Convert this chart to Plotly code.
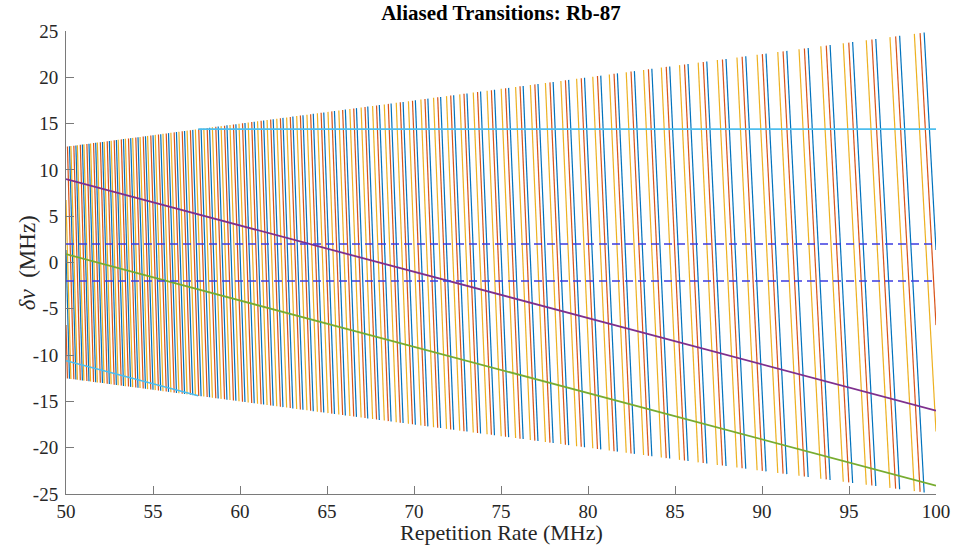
import math
import plotly.graph_objects as go

# ---- data ----
# Transition frequencies (MHz) that get aliased by the comb repetition rate
transition_names = ["T1", "T2", "T3", "T4", "T5", "T6"]
transition_freqs_mhz = [3451.34, 3443.24, 3431.74, 34.0, 25.9, 14.4]
transition_colors = ["#0072BD", "#D95319", "#EDB120", "#7E2F8E", "#77AC30", "#4DBEEE"]
transition_widths = [1.2, 1.2, 1.2, 1.8, 1.8, 1.6]

frep_range = [50, 100]          # repetition rate range (MHz)
threshold_levels = [2.0, -2.0]  # dashed reference levels (MHz)

x_ticks = [50, 55, 60, 65, 70, 75, 80, 85, 90, 95, 100]
y_ticks = [-25, -20, -15, -10, -5, 0, 5, 10, 15, 20, 25]
y_tick_text = ["-25", "-20", "-15", "-10", "-5", "0", "5", "10", "15", "20", "25"]

title_text = "<b>Aliased Transitions: Rb-87</b>"
x_title = "Repetition Rate (MHz)"
y_title = "<i>δν</i>  (MHz)"


def aliased_segments(f, lo, hi):
    """Alias f into [-frep/4, frep/4]: delta = f - k*frep/2 on each branch k."""
    xs, ys = [], []
    kmax = int(math.ceil(2 * f / lo)) + 2
    for k in range(kmax, -1, -1):
        a = 4 * f / (2 * k + 1)
        b = 4 * f / (2 * k - 1) if (2 * k - 1) > 0 else float("inf")
        x0, x1 = max(a, lo), min(b, hi)
        if x0 < x1:
            xs += [x0, x1, None]
            ys += [f - k * x0 / 2, f - k * x1 / 2, None]
    return xs, ys


fig = go.Figure()
for name, f, c, w in zip(transition_names, transition_freqs_mhz, transition_colors, transition_widths):
    xs, ys = aliased_segments(f, frep_range[0], frep_range[1])
    fig.add_trace(go.Scatter(x=xs, y=ys, mode="lines", name=name,
                             line=dict(color=c, width=w), hoverinfo="skip"))

for lev in threshold_levels:
    fig.add_trace(go.Scatter(x=frep_range, y=[lev, lev], mode="lines",
                             line=dict(color="rgb(60,60,225)", width=1.3, dash="8px,5px"),
                             hoverinfo="skip"))

serif = "Liberation Serif, Times New Roman, serif"
axis_common = dict(showline=True, linecolor="#7a7a7a", linewidth=1, ticks="inside",
                   ticklen=8, tickcolor="#7a7a7a", showgrid=False, zeroline=False,
                   mirror=False, automargin=False,
                   tickfont=dict(family=serif, size=19, color="#262626"))

fig.update_layout(
    width=953, height=546,
    margin=dict(l=66, r=17, t=31, b=52),
    paper_bgcolor="white", plot_bgcolor="white",
    showlegend=False,
    title=dict(text=title_text, x=0.5, xanchor="center",
               xref="paper", y=0.977, yanchor="middle", automargin=False,
               font=dict(family=serif, size=21, color="black")),
    xaxis=dict(range=frep_range, tickvals=x_ticks, ticklabelstandoff=0, **axis_common),
    yaxis=dict(range=[-25, 25], tickvals=y_ticks, ticktext=y_tick_text,
               ticklabelstandoff=3, **axis_common),
    annotations=[
        dict(text=x_title, xref="paper", yref="paper", x=0.5, y=-0.083,
             xanchor="center", yanchor="middle", showarrow=False,
             font=dict(family=serif, size=22, color="#262626")),
        dict(text=y_title, xref="paper", yref="paper", x=-0.044, y=0.5,
             xanchor="center", yanchor="middle", showarrow=False, textangle=-90,
             font=dict(family=serif, size=23, color="#262626")),
    ],
)

fig.write_html("out.html")
